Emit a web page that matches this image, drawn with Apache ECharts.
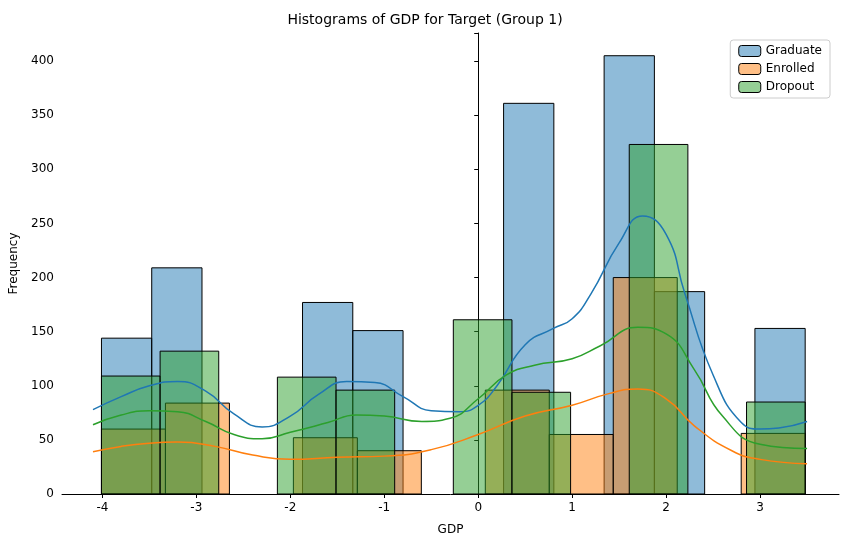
<!DOCTYPE html>
<html>
<head>
<meta charset="utf-8">
<script src="https://cdn.jsdelivr.net/npm/echarts@6/dist/echarts.min.js"></script>
<style>html,body{margin:0;padding:0;background:#fff}#chart{width:850px;height:547px}</style>
</head>
<body>
<div id="chart"></div>
<script>
// histogram range (shared by all groups)
var binMin = -4.01, binMax = 3.48;
var gradCounts = [144, 209, 0, 0, 177, 151, 0, 0, 361, 0, 405, 187, 0, 153];
var enrCounts = [60, 84, 0, 52, 40, 0, 96, 55, 200, 0, 56];
var dropCounts = [109, 132, 0, 108, 96, 0, 161, 94, 0, 323, 0, 85];

// kde curves
var gradKde = [[-4.1,78],[-3.8,90],[-3.5,100],[-3.2,104],[-2.9,95],[-2.6,74],[-2.3,62],[-2,72],[-1.7,92],[-1.4,104],[-1.1,103],[-0.8,90],[-0.5,77],[-0.2,76],[0,82],[0.2,100],[0.5,138],[0.8,153],[1.0,162],[1.2,185],[1.5,232],[1.75,257],[2.0,240],[2.2,185],[2.5,110],[2.8,66],[3.0,60],[3.2,61],[3.5,67]];
var enrKde = [[-4.1,39],[-3.8,44],[-3.5,47],[-3.2,48],[-2.8,44],[-2.4,36],[-2,32],[-1.5,34],[-1,35],[-0.5,41],[0,55],[0.5,72],[1.0,82],[1.4,93],[1.7,97],[2.0,88],[2.3,63],[2.7,40],[3.0,32],[3.5,28]];
var dropKde = [[-4.1,64],[-3.8,73],[-3.5,77],[-3.2,76],[-2.9,67],[-2.6,55],[-2.3,51],[-2,57],[-1.6,66],[-1.3,73],[-1,72],[-0.6,67],[-0.3,70],[0,88],[0.3,110],[0.6,119],[1.0,125],[1.3,137],[1.7,154],[2.0,148],[2.3,115],[2.6,72],[3.0,46],[3.5,42]];

function bins(counts) {
	var w = (binMax - binMin) / counts.length;
	return counts.map(function(c, i) { return [binMin + i * w, binMin + (i + 1) * w, c]; });
}
function histSeries(name, counts, color) {
	return {
		name: name, type: 'custom', data: bins(counts),
		itemStyle: { color: color },
		renderItem: function(params, api) {
			if (api.value(2) <= 0) return;
			var p0 = api.coord([api.value(0), 0]);
			var p1 = api.coord([api.value(1), api.value(2)]);
			return { type: 'rect', shape: { x: p0[0], y: p1[1], width: p1[0] - p0[0], height: p0[1] - p1[1] },
				style: { fill: color, stroke: '#000', lineWidth: 1 } };
		}
	};
}
function kdeSeries(data, color) {
	return { type: 'line', data: data, smooth: true, showSymbol: false, silent: true,
		lineStyle: { color: color, width: 1.5 }, z: 5 };
}

var chart = echarts.init(document.getElementById('chart'));
var ticks = [-4, -3, -2, -1, 0, 1, 2, 3];
chart.setOption({
	animation: false,
	title: { text: 'Histograms of GDP for Target (Group 1)', left: 'center', top: 8,
		textStyle: { fontFamily: 'DejaVu Sans', fontSize: 14, fontWeight: 'normal', color: '#000' } },
	grid: { left: 62, right: 11, top: 33, bottom: 53 },
	legend: { right: 20, top: 40, orient: 'vertical', itemWidth: 22, itemHeight: 11, itemGap: 6,
		backgroundColor: '#fff', borderColor: '#ccc', borderWidth: 1, borderRadius: 3, padding: [5, 8],
		textStyle: { fontFamily: 'DejaVu Sans', fontSize: 12, color: '#000' },
		data: [
			{ name: 'Graduate', itemStyle: { color: 'rgba(31,119,180,0.5)', borderColor: '#000', borderWidth: 1 } },
			{ name: 'Enrolled', itemStyle: { color: 'rgba(255,127,14,0.5)', borderColor: '#000', borderWidth: 1 } },
			{ name: 'Dropout', itemStyle: { color: 'rgba(44,160,44,0.5)', borderColor: '#000', borderWidth: 1 } }
		] },
	xAxis: { type: 'value', min: -4.43, max: 3.84, name: 'GDP', nameLocation: 'middle', nameGap: 30,
		nameTextStyle: { fontFamily: 'DejaVu Sans', fontSize: 12, color: '#000' },
		axisLine: { lineStyle: { color: '#000' } },
		axisTick: { show: true, customValues: ticks, length: 4, lineStyle: { color: '#000' } },
		axisLabel: { customValues: ticks, fontFamily: 'DejaVu Sans', fontSize: 12, color: '#000' },
		splitLine: { show: false } },
	yAxis: { type: 'value', min: 0, max: 426, interval: 50, name: 'Frequency', nameLocation: 'middle', nameGap: 42,
		nameTextStyle: { fontFamily: 'DejaVu Sans', fontSize: 12, color: '#000' },
		axisLine: { show: true, lineStyle: { color: '#000' } },
		axisTick: { show: true, length: 4, lineStyle: { color: '#000' } },
		axisLabel: { fontFamily: 'DejaVu Sans', fontSize: 12, color: '#000',
			formatter: function(v) { return v > 400 ? '' : v; } },
		splitLine: { show: false } },
	series: [
		histSeries('Graduate', gradCounts, 'rgba(31,119,180,0.5)'),
		histSeries('Enrolled', enrCounts, 'rgba(255,127,14,0.5)'),
		histSeries('Dropout', dropCounts, 'rgba(44,160,44,0.5)'),
		kdeSeries(gradKde, '#1f77b4'),
		kdeSeries(enrKde, '#ff7f0e'),
		kdeSeries(dropKde, '#2ca02c')
	]
});
</script>
</body>
</html>
